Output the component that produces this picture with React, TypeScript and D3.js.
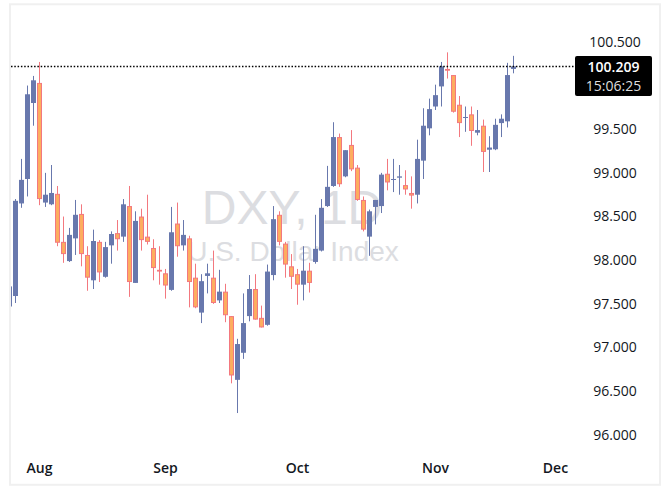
import React from "react";
import * as d3 from "d3";

// ---- Data (DXY daily candles, starting Fri 2025-07-25, weekdays only) ----
const startDate = "2025-07-25";
const opens = [
  97.46, 97.58, 98.64, 98.92, 99.79, 100.02, 98.65, 98.63, 98.75, 98.2,
  97.98, 98.24, 98.52, 98.05, 97.76, 98.2, 97.8, 98.16, 98.3, 98.26,
  98.61, 97.73, 98.49, 98.26, 98.13, 97.88, 97.84, 97.65, 98.41, 98.16,
  98.24, 97.79, 97.39, 97.81, 97.79, 97.53, 97.63, 97.35, 96.62, 96.93,
  97.35, 97.66, 97.33, 97.25, 97.82, 98.51, 98.18, 97.92, 97.83, 97.71,
  97.87, 97.97, 98.1, 98.61, 98.84, 99.4, 98.95, 99.31, 99.05, 98.68,
  98.26, 98.6, 98.61, 98.98, 98.91, 98.935, 98.85, 98.76, 98.74, 99.13,
  99.5, 99.75, 99.98, 100.18, 100.11, 99.77, 99.62, 99.66, 99.45, 99.53,
  99.255, 99.26, 99.56, 99.58, 100.18,
];
const highs = [
  97.72, 98.69, 99.15, 99.99, 100.1, 100.26, 98.99, 99.08, 98.84, 98.49,
  98.36, 98.68, 98.63, 98.15, 98.34, 98.22, 98.2, 98.32, 98.45, 98.69,
  98.84, 98.55, 98.58, 98.74, 98.23, 98.15, 97.89, 98.6, 98.65, 98.45,
  98.27, 97.95, 97.83, 97.95, 98.1, 97.88, 97.72, 97.35, 97.09, 97.61,
  97.82, 97.83, 97.47, 97.94, 98.61, 98.55, 98.2, 98.06, 97.89, 98.15,
  97.96, 98.51, 98.69, 99.07, 99.57, 99.44, 99.25, 99.48, 99.08, 98.72,
  98.57, 98.68, 98.99, 99.15, 99.15, 99.08, 99.02, 98.95, 99.37, 99.73,
  99.84, 100.0, 100.26, 100.37, 100.11, 99.87, 99.75, 99.75, 99.71, 99.6,
  99.41, 99.61, 99.66, 100.25, 100.33,
];
const lows = [
  97.43, 97.5, 98.59, 98.72, 99.53, 98.62, 98.6, 98.62, 98.15, 97.96,
  97.97, 98.05, 97.92, 97.64, 97.66, 97.74, 97.79, 97.95, 98.1, 98.2,
  97.57, 97.73, 98.1, 98.17, 97.76, 97.71, 97.55, 97.64, 98.03, 98.1,
  97.45, 97.44, 97.27, 97.61, 97.49, 97.5, 97.28, 96.58, 96.24, 96.86,
  97.29, 97.31, 97.22, 97.24, 97.76, 98.16, 97.79, 97.66, 97.48, 97.53,
  97.62, 97.95, 98.09, 98.6, 98.83, 98.83, 98.94, 99.01, 98.67, 98.32,
  98.04, 98.4, 98.53, 98.79, 98.77, 98.74, 98.74, 98.58, 98.64, 98.92,
  99.42, 99.71, 99.75, 100.07, 99.68, 99.4, 99.46, 99.3, 99.42, 99.0,
  99.0, 99.25, 99.4, 99.51, 100.13,
];
const closes = [
  97.69, 98.67, 98.91, 99.89, 100.05, 98.69, 98.74, 98.76, 98.19, 98.06,
  98.28, 98.51, 98.06, 97.79, 98.21, 97.85, 98.14, 98.29, 98.23, 98.63,
  97.74, 98.44, 98.22, 98.2, 97.9, 97.86, 97.7, 98.31, 98.15, 98.28,
  97.74, 97.45, 97.75, 97.84, 97.5, 97.63, 97.36, 96.67, 97.03, 97.27,
  97.66, 97.31, 97.22, 97.86, 98.46, 98.2, 97.94, 97.8, 97.71, 97.87,
  97.73, 98.12, 98.59, 98.83, 99.4, 98.86, 99.25, 99.03, 98.68, 98.34,
  98.55, 98.68, 98.97, 98.88, 98.92, 98.95, 98.8, 98.73, 99.15, 99.53,
  99.72, 99.88, 100.21, 100.16, 99.69, 99.56, 99.63, 99.47, 99.48, 99.23,
  99.28, 99.54, 99.61, 100.11, 100.209,
];
const yTicks = [96, 96.5, 97, 97.5, 98, 98.5, 99, 99.5, 100, 100.5];
const lastPrice = 100.209;
const countdown = "15:06:25";
const watermarkTitle = "DXY, 1D";
const watermarkSubtitle = "U.S. Dollar Index";
const extraDays = 10; // future weekdays shown on the time scale

// ---- Helpers ----
function weekdays(start: Date, count: number): Date[] {
  const out: Date[] = [];
  let d = new Date(start);
  while (out.length < count) {
    const wd = d.getDay();
    if (wd !== 0 && wd !== 6) out.push(new Date(d));
    d = d3.timeDay.offset(d, 1);
  }
  return out;
}

const W = 670;
const H = 500;
const UP = "#6878ad";
const DOWN_FILL = "#fdad5f";
const DOWN_LINE = "#f3787f";
const TEXT = "#131722";

export default function App() {
  const n = closes.length;
  const days = weekdays(d3.timeParse("%Y-%m-%d")(startDate)!, n + extraDays);

  const x = d3.scaleLinear().domain([0, 1]).range([9.5, 15.5]);
  const y = d3.scaleLinear().domain([96, 100.5]).range([434, 41]);

  const monthTicks: { i: number; label: string }[] = [];
  days.forEach((d, i) => {
    if (i > 0 && d.getMonth() !== days[i - 1].getMonth()) {
      monthTicks.push({ i, label: d3.timeFormat("%b")(d) });
    }
  });

  const plotLeft = 11;
  const plotRight = 575;
  const boxX = 575;
  const boxW = 77;
  const yLast = y(lastPrice);
  const boxTop = yLast - 10.5;
  const boxH = 40;
  const labelX = 615;

  const visibleTicks = yTicks.filter((t) => {
    const ty = y(t);
    return ty < boxTop - 6 || ty > boxTop + boxH + 6;
  });

  const fontUI = "'Open Sans', 'Noto Sans', sans-serif";

  return (
    <svg
      width={W}
      height={H}
      style={{ position: "absolute", left: 0, top: 0, display: "block", background: "#fff" }}
    >
      <defs>
        <clipPath id="plot">
          <rect x={plotLeft} y={5} width={plotRight - plotLeft} height={445} />
        </clipPath>
      </defs>
      <rect x={10} y={4.3} width={650} height={480.5} fill="#fff" stroke="#f0f0f0" strokeWidth={2} />

      {/* Watermark */}
      <g fill="#dcdde1" fontFamily="'Liberation Sans', Arial, sans-serif" textAnchor="middle">
        <text x={292} y={224} fontSize={48}>{watermarkTitle}</text>
        <text x={293} y={261} fontSize={28}>{watermarkSubtitle}</text>
      </g>

      {/* Candles */}
      <g clipPath="url(#plot)">
        {closes.map((c, i) => {
          const o = opens[i];
          const cx = x(i);
          const up = c >= o;
          const top = y(Math.max(o, c));
          const bot = y(Math.min(o, c));
          const hgt = Math.max(1, bot - top);
          return (
            <g key={i}>
              <line
                x1={cx}
                x2={cx}
                y1={y(highs[i])}
                y2={y(lows[i])}
                stroke={up ? UP : DOWN_LINE}
                strokeWidth={1}
              />
              {up ? (
                <rect x={cx - 2.5} y={top} width={5} height={hgt} fill={UP} />
              ) : (
                <rect
                  x={cx - 2}
                  y={top + 0.5}
                  width={4}
                  height={Math.max(0.5, hgt - 1)}
                  fill={DOWN_FILL}
                  stroke={DOWN_LINE}
                  strokeWidth={1}
                />
              )}
            </g>
          );
        })}
      </g>

      {/* Last price line */}
      <line
        x1={plotLeft}
        x2={boxX}
        y1={yLast}
        y2={yLast}
        stroke="#000"
        strokeWidth={1.5}
        strokeDasharray="1.5 1.8"
      />

      {/* Price scale */}
      <g fontFamily={fontUI} fontSize={14} fill={TEXT} textAnchor="middle">
        {visibleTicks.map((t) => (
          <text key={t} x={labelX} y={y(t)} dominantBaseline="central">
            {d3.format(".3f")(t)}
          </text>
        ))}
      </g>

      {/* Last price label */}
      <rect x={boxX} y={boxTop} width={boxW} height={boxH} rx={2} fill="#000" />
      <text
        x={boxX + boxW / 2}
        y={yLast}
        dominantBaseline="central"
        textAnchor="middle"
        fontFamily={fontUI}
        fontSize={14}
        fontWeight={600}
        fill="#fff"
      >
        {d3.format(".3f")(lastPrice)}
      </text>
      <text
        x={boxX + boxW / 2}
        y={yLast + 19.5}
        dominantBaseline="central"
        textAnchor="middle"
        fontFamily={fontUI}
        fontSize={14}
        fill="#dedede"
      >
        {countdown}
      </text>

      {/* Time scale */}
      <g fontFamily={fontUI} fontSize={14} fontWeight={600} fill={TEXT} textAnchor="middle">
        {monthTicks.map((m) => (
          <text key={m.i} x={x(m.i)} y={467} dominantBaseline="central">
            {m.label}
          </text>
        ))}
      </g>
    </svg>
  );
}
